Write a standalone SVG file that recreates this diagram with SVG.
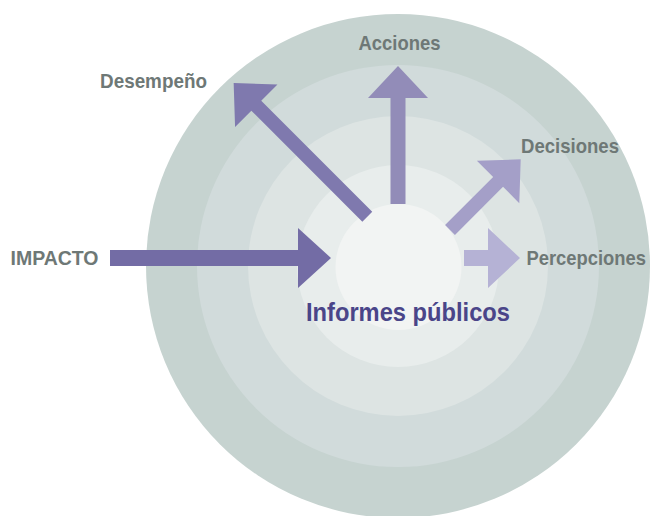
<svg xmlns="http://www.w3.org/2000/svg" width="651" height="516" viewBox="0 0 651 516">
<style>
.lbl{font-family:"Liberation Sans",Arial,sans-serif;font-weight:bold;font-size:21px;fill:#6e7876}
.title{font-family:"Liberation Sans",Arial,sans-serif;font-weight:bold;font-size:26px;fill:#4a4589}
</style>
<rect width="651" height="516" fill="#ffffff"/>
<g id="rings">
<circle cx="398" cy="266" r="252" fill="#c6d3d0"/>
<circle cx="398" cy="266" r="201" fill="#d1dbdb"/>
<circle cx="398" cy="266" r="150" fill="#dde4e3"/>
<circle cx="398" cy="266" r="101" fill="#e8edec"/>
</g>
<g id="center">
<circle cx="398.5" cy="267" r="63" fill="#f2f4f3"/>
<text class="title" x="306" y="320.5" textLength="204" lengthAdjust="spacingAndGlyphs">Informes públicos</text>
</g>
<g id="connectors">
<polygon fill="#736ca5" points="110,250 298,250 298,228 331,258 298,288 298,266 110,266"/>
<polygon fill="#7f79ae" transform="translate(367.3,216.7) rotate(-135)" points="0,-7 157,-7 157,-30 189,0 157,30 157,7 0,7"/>
<polygon fill="#928cb8" points="390.5,204 390.5,98 368,98 398,66 428,98 405.5,98 405.5,204"/>
<polygon fill="#a49fc8" transform="translate(450,230) rotate(-45)" points="0,-7 68,-7 68,-30 100,0 68,30 68,7 0,7"/>
<polygon fill="#b5b2d5" points="464,250 488,250 488,228 520,258 488,288 488,266 464,266"/>
</g>
<g id="impacto"><text class="lbl" x="10.5" y="265" textLength="88" lengthAdjust="spacingAndGlyphs">IMPACTO</text></g>
<g id="desempeno"><text class="lbl" x="100" y="88" textLength="107" lengthAdjust="spacingAndGlyphs">Desempeño</text></g>
<g id="acciones"><text class="lbl" x="358.5" y="50" textLength="82" lengthAdjust="spacingAndGlyphs">Acciones</text></g>
<g id="decisiones"><text class="lbl" x="521" y="153" textLength="98" lengthAdjust="spacingAndGlyphs">Decisiones</text></g>
<g id="percepciones"><text class="lbl" transform="translate(526.5,264.5) scale(0.875,1)" x="0" y="0">Percepciones</text></g>
</svg>
